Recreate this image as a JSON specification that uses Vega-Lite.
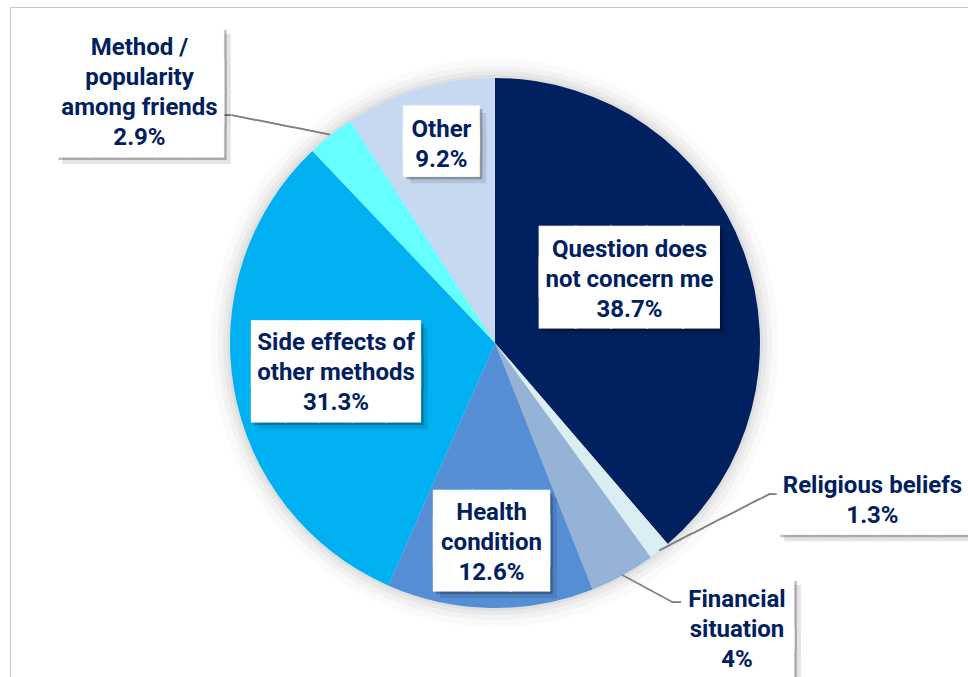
{
  "$schema": "https://vega.github.io/schema/vega-lite/v6.json",
  "width": 958,
  "height": 670,
  "autosize": {"type": "none"},
  "padding": {"left": 10, "top": 7, "right": 0, "bottom": 0},
  "background": "white",
  "view": {"stroke": "#c6c6c6", "strokeWidth": 1},
  "config": {"view": {"stroke": "#c6c6c6", "strokeWidth": 1}},
  "data": {"values": [
    {"category": "Question does not concern me", "value": 38.7, "label": "Question does\nnot concern me\n38.7%"},
    {"category": "Religious beliefs", "value": 1.3, "label": "Religious beliefs\n1.3%"},
    {"category": "Financial situation", "value": 4, "label": "Financial\nsituation\n4%"},
    {"category": "Health condition", "value": 12.6, "label": "Health\ncondition\n12.6%"},
    {"category": "Side effects of other methods", "value": 31.3, "label": "Side effects of\nother methods\n31.3%"},
    {"category": "Method / popularity among friends", "value": 2.9, "label": "Method /\npopularity\namong friends\n2.9%"},
    {"category": "Other", "value": 9.2, "label": "Other\n9.2%"}
  ]},
  "transform": [{"window": [{"op": "row_number", "as": "idx"}]}],
  "layer": [
    {"transform": [{"aggregate": [{"op": "sum", "field": "value", "as": "total"}]}],
     "mark": {"type": "arc", "theta": 0, "theta2": 6.2832, "radius": 284, "color": "#000", "opacity": 0.02, "xOffset": 6, "yOffset": 1},
     "encoding": {}},
    {"transform": [{"aggregate": [{"op": "sum", "field": "value", "as": "total"}]}],
     "mark": {"type": "arc", "theta": 0, "theta2": 6.2832, "radius": 277, "color": "#000", "opacity": 0.03, "xOffset": 6, "yOffset": 1},
     "encoding": {}},
    {"transform": [{"aggregate": [{"op": "sum", "field": "value", "as": "total"}]}],
     "mark": {"type": "arc", "theta": 0, "theta2": 6.2832, "radius": 272, "color": "#000", "opacity": 0.035, "xOffset": 6, "yOffset": 1},
     "encoding": {}},
    {"transform": [{"aggregate": [{"op": "sum", "field": "value", "as": "total"}]}],
     "mark": {"type": "arc", "theta": 0, "theta2": 6.2832, "radius": 268, "color": "#000", "opacity": 0.04, "xOffset": 6, "yOffset": 1},
     "encoding": {}},
    {"mark": {"type": "arc", "radius": 265, "xOffset": 6, "yOffset": 1},
     "encoding": {
       "theta": {"field": "value", "type": "quantitative", "stack": true},
       "order": {"field": "idx", "type": "quantitative"},
       "color": {"field": "category", "type": "nominal", "legend": null,
         "scale": {"domain": ["Question does not concern me", "Religious beliefs", "Financial situation", "Health condition", "Side effects of other methods", "Method / popularity among friends", "Other"],
                   "range": ["#002060", "#DAEEF3", "#95B3D7", "#558ED5", "#00B0F0", "#66FFFF", "#C6D9F1"]}}
     }},

    {"mark": {"type": "text", "font": "DejaVu Sans Mono", "fontSize": 20.8, "angle": 11.1, "color": "#7f7f7f", "align": "center", "baseline": "middle", "dy": 1, "radius": 305.6, "thetaOffset": -0.1075, "xOffset": 6, "yOffset": 1},
     "encoding": {"theta": {"field": "value", "type": "quantitative", "stack": true}, "order": {"field": "idx", "type": "quantitative"}, "detail": {"field": "category", "type": "nominal"},
       "text": {"condition": {"test": "datum.category === 'Method / popularity among friends'", "value": "────────"}, "value": ""}}},
    {"mark": {"type": "text", "font": "DejaVu Sans Mono", "fontSize": 20, "angle": 0, "color": "#7f7f7f", "align": "center", "baseline": "middle", "dy": 1, "radius": 353.2, "thetaOffset": -0.2016, "xOffset": 6, "yOffset": 1},
     "encoding": {"theta": {"field": "value", "type": "quantitative", "stack": true}, "order": {"field": "idx", "type": "quantitative"}, "detail": {"field": "category", "type": "nominal"},
       "text": {"condition": {"test": "datum.category === 'Method / popularity among friends'", "value": "─"}, "value": ""}}},
    {"mark": {"type": "text", "font": "DejaVu Sans Mono", "fontSize": 20.7, "angle": 332.9, "color": "#7f7f7f", "align": "center", "baseline": "middle", "dy": 1, "radius": 283.4, "thetaOffset": -0.2176, "xOffset": 6, "yOffset": 1},
     "encoding": {"theta": {"field": "value", "type": "quantitative", "stack": true}, "order": {"field": "idx", "type": "quantitative"}, "detail": {"field": "category", "type": "nominal"},
       "text": {"condition": {"test": "datum.category === 'Religious beliefs'", "value": "──────────"}, "value": ""}}},
    {"mark": {"type": "text", "font": "DejaVu Sans Mono", "fontSize": 20, "angle": 0, "color": "#7f7f7f", "align": "center", "baseline": "middle", "dy": 1, "radius": 318, "thetaOffset": -0.4079, "xOffset": 6, "yOffset": 1},
     "encoding": {"theta": {"field": "value", "type": "quantitative", "stack": true}, "order": {"field": "idx", "type": "quantitative"}, "detail": {"field": "category", "type": "nominal"},
       "text": {"condition": {"test": "datum.category === 'Religious beliefs'", "value": "─"}, "value": ""}}},
    {"mark": {"type": "text", "font": "DejaVu Sans Mono", "fontSize": 19.2, "angle": 28.2, "color": "#7f7f7f", "align": "center", "baseline": "middle", "dy": 1, "radius": 289.0, "thetaOffset": -0.0543, "xOffset": 6, "yOffset": 1},
     "encoding": {"theta": {"field": "value", "type": "quantitative", "stack": true}, "order": {"field": "idx", "type": "quantitative"}, "detail": {"field": "category", "type": "nominal"},
       "text": {"condition": {"test": "datum.category === 'Financial situation'", "value": "─────"}, "value": ""}}},
    {"mark": {"type": "text", "font": "DejaVu Sans Mono", "fontSize": 20, "angle": 0, "color": "#7f7f7f", "align": "center", "baseline": "middle", "dy": 1, "radius": 317.1, "thetaOffset": -0.1126, "xOffset": 6, "yOffset": 1},
     "encoding": {"theta": {"field": "value", "type": "quantitative", "stack": true}, "order": {"field": "idx", "type": "quantitative"}, "detail": {"field": "category", "type": "nominal"},
       "text": {"condition": {"test": "datum.category === 'Financial situation'", "value": "─"}, "value": ""}}},

    {"mark": {"type": "text", "font": "DejaVu Sans Mono", "fontSize": 59.5, "lineHeight": 30.8, "lineBreak": "\n", "color": "#000", "opacity": 0.1, "align": "center", "baseline": "middle", "dy": -12.7, "radius": 149.95, "thetaOffset": -0.1030, "xOffset": 13, "yOffset": 8},
     "encoding": {"theta": {"field": "value", "type": "quantitative", "stack": true}, "order": {"field": "idx", "type": "quantitative"}, "detail": {"field": "category", "type": "nominal"},
       "text": {"condition": {"test": "datum.category === 'Question does not concern me'", "value": "█████\n█████"}, "value": ""}}},
    {"mark": {"type": "text", "font": "DejaVu Sans Mono", "fontSize": 55.8, "lineHeight": 35, "lineBreak": "\n", "color": "#000", "opacity": 0.1, "align": "center", "baseline": "middle", "dy": -14.9, "radius": 161.4, "thetaOffset": 0.0, "xOffset": 13, "yOffset": 8},
     "encoding": {"theta": {"field": "value", "type": "quantitative", "stack": true}, "order": {"field": "idx", "type": "quantitative"}, "detail": {"field": "category", "type": "nominal"},
       "text": {"condition": {"test": "datum.category === 'Side effects of other methods'", "value": "█████\n█████"}, "value": ""}}},
    {"mark": {"type": "text", "font": "DejaVu Sans Mono", "fontSize": 63.7, "lineHeight": 24.9, "lineBreak": "\n", "color": "#000", "opacity": 0.1, "align": "center", "baseline": "middle", "dy": -9.55, "radius": 197.2, "thetaOffset": -0.001, "xOffset": 13, "yOffset": 8},
     "encoding": {"theta": {"field": "value", "type": "quantitative", "stack": true}, "order": {"field": "idx", "type": "quantitative"}, "detail": {"field": "category", "type": "nominal"},
       "text": {"condition": {"test": "datum.category === 'Health condition'", "value": "███\n███"}, "value": ""}}},
    {"mark": {"type": "text", "font": "DejaVu Sans Mono", "fontSize": 41.5, "lineHeight": 21.7, "lineBreak": "\n", "color": "#000", "opacity": 0.1, "align": "center", "baseline": "middle", "dy": -8.95, "radius": 208.3, "thetaOffset": 0.0293, "xOffset": 13, "yOffset": 8},
     "encoding": {"theta": {"field": "value", "type": "quantitative", "stack": true}, "order": {"field": "idx", "type": "quantitative"}, "detail": {"field": "category", "type": "nominal"},
       "text": {"condition": {"test": "datum.category === 'Other'", "value": "███\n███"}, "value": ""}}},
    {"mark": {"type": "text", "font": "DejaVu Sans Mono", "fontSize": 55.5, "lineHeight": 32.2, "lineBreak": "\n", "color": "#000", "opacity": 0.1, "align": "center", "baseline": "middle", "dy": -29.6, "radius": 435.6, "thetaOffset": -0.2854, "xOffset": 13, "yOffset": 8},
     "encoding": {"theta": {"field": "value", "type": "quantitative", "stack": true}, "order": {"field": "idx", "type": "quantitative"}, "detail": {"field": "category", "type": "nominal"},
       "text": {"condition": {"test": "datum.category === 'Method / popularity among friends'", "value": "█████\n█████\n█████"}, "value": ""}}},
    {"mark": {"type": "text", "font": "DejaVu Sans Mono", "fontSize": 52.6, "lineHeight": 6.8, "lineBreak": "\n", "color": "#000", "opacity": 0.1, "align": "center", "baseline": "middle", "dy": -1.0, "radius": 408.8, "thetaOffset": -0.5109, "xOffset": 13, "yOffset": 8},
     "encoding": {"theta": {"field": "value", "type": "quantitative", "stack": true}, "order": {"field": "idx", "type": "quantitative"}, "detail": {"field": "category", "type": "nominal"},
       "text": {"condition": {"test": "datum.category === 'Religious beliefs'", "value": "██████\n██████"}, "value": ""}}},
    {"mark": {"type": "text", "font": "DejaVu Sans Mono", "fontSize": 61.5, "lineHeight": 48.4, "lineBreak": "\n", "color": "#000", "opacity": 0.1, "align": "center", "baseline": "middle", "dy": -21.4, "radius": 383.2, "thetaOffset": -0.1826, "xOffset": 13, "yOffset": 8},
     "encoding": {"theta": {"field": "value", "type": "quantitative", "stack": true}, "order": {"field": "idx", "type": "quantitative"}, "detail": {"field": "category", "type": "nominal"},
       "text": {"condition": {"test": "datum.category === 'Financial situation'", "value": "███\n███"}, "value": ""}}},

    {"mark": {"type": "text", "font": "DejaVu Sans Mono", "fontSize": 59.5, "lineHeight": 30.8, "lineBreak": "\n", "color": "#000", "opacity": 0.25, "align": "center", "baseline": "middle", "dy": -12.7, "radius": 149.95, "thetaOffset": -0.1030, "xOffset": 9, "yOffset": 4},
     "encoding": {"theta": {"field": "value", "type": "quantitative", "stack": true}, "order": {"field": "idx", "type": "quantitative"}, "detail": {"field": "category", "type": "nominal"},
       "text": {"condition": {"test": "datum.category === 'Question does not concern me'", "value": "█████\n█████"}, "value": ""}}},
    {"mark": {"type": "text", "font": "DejaVu Sans Mono", "fontSize": 55.8, "lineHeight": 35, "lineBreak": "\n", "color": "#000", "opacity": 0.25, "align": "center", "baseline": "middle", "dy": -14.9, "radius": 161.4, "thetaOffset": 0.0, "xOffset": 9, "yOffset": 4},
     "encoding": {"theta": {"field": "value", "type": "quantitative", "stack": true}, "order": {"field": "idx", "type": "quantitative"}, "detail": {"field": "category", "type": "nominal"},
       "text": {"condition": {"test": "datum.category === 'Side effects of other methods'", "value": "█████\n█████"}, "value": ""}}},
    {"mark": {"type": "text", "font": "DejaVu Sans Mono", "fontSize": 63.7, "lineHeight": 24.9, "lineBreak": "\n", "color": "#000", "opacity": 0.25, "align": "center", "baseline": "middle", "dy": -9.55, "radius": 197.2, "thetaOffset": -0.001, "xOffset": 9, "yOffset": 4},
     "encoding": {"theta": {"field": "value", "type": "quantitative", "stack": true}, "order": {"field": "idx", "type": "quantitative"}, "detail": {"field": "category", "type": "nominal"},
       "text": {"condition": {"test": "datum.category === 'Health condition'", "value": "███\n███"}, "value": ""}}},
    {"mark": {"type": "text", "font": "DejaVu Sans Mono", "fontSize": 41.5, "lineHeight": 21.7, "lineBreak": "\n", "color": "#000", "opacity": 0.25, "align": "center", "baseline": "middle", "dy": -8.95, "radius": 208.3, "thetaOffset": 0.0293, "xOffset": 9, "yOffset": 4},
     "encoding": {"theta": {"field": "value", "type": "quantitative", "stack": true}, "order": {"field": "idx", "type": "quantitative"}, "detail": {"field": "category", "type": "nominal"},
       "text": {"condition": {"test": "datum.category === 'Other'", "value": "███\n███"}, "value": ""}}},
    {"mark": {"type": "text", "font": "DejaVu Sans Mono", "fontSize": 55.5, "lineHeight": 32.2, "lineBreak": "\n", "color": "#000", "opacity": 0.25, "align": "center", "baseline": "middle", "dy": -29.6, "radius": 435.6, "thetaOffset": -0.2854, "xOffset": 9, "yOffset": 4},
     "encoding": {"theta": {"field": "value", "type": "quantitative", "stack": true}, "order": {"field": "idx", "type": "quantitative"}, "detail": {"field": "category", "type": "nominal"},
       "text": {"condition": {"test": "datum.category === 'Method / popularity among friends'", "value": "█████\n█████\n█████"}, "value": ""}}},
    {"mark": {"type": "text", "font": "DejaVu Sans Mono", "fontSize": 52.6, "lineHeight": 6.8, "lineBreak": "\n", "color": "#000", "opacity": 0.25, "align": "center", "baseline": "middle", "dy": -1.0, "radius": 408.8, "thetaOffset": -0.5109, "xOffset": 9, "yOffset": 4},
     "encoding": {"theta": {"field": "value", "type": "quantitative", "stack": true}, "order": {"field": "idx", "type": "quantitative"}, "detail": {"field": "category", "type": "nominal"},
       "text": {"condition": {"test": "datum.category === 'Religious beliefs'", "value": "██████\n██████"}, "value": ""}}},
    {"mark": {"type": "text", "font": "DejaVu Sans Mono", "fontSize": 61.5, "lineHeight": 48.4, "lineBreak": "\n", "color": "#000", "opacity": 0.25, "align": "center", "baseline": "middle", "dy": -21.4, "radius": 383.2, "thetaOffset": -0.1826, "xOffset": 9, "yOffset": 4},
     "encoding": {"theta": {"field": "value", "type": "quantitative", "stack": true}, "order": {"field": "idx", "type": "quantitative"}, "detail": {"field": "category", "type": "nominal"},
       "text": {"condition": {"test": "datum.category === 'Financial situation'", "value": "███\n███"}, "value": ""}}},

    {"mark": {"type": "text", "font": "DejaVu Sans Mono", "fontSize": 59.5, "lineHeight": 30.8, "lineBreak": "\n", "color": "#fff", "stroke": "#fff", "strokeWidth": 1, "align": "center", "baseline": "middle", "dy": -12.7, "radius": 149.95, "thetaOffset": -0.1030, "xOffset": 6, "yOffset": 1},
     "encoding": {"theta": {"field": "value", "type": "quantitative", "stack": true}, "order": {"field": "idx", "type": "quantitative"}, "detail": {"field": "category", "type": "nominal"},
       "text": {"condition": {"test": "datum.category === 'Question does not concern me'", "value": "█████\n█████"}, "value": ""}}},
    {"mark": {"type": "text", "font": "DejaVu Sans Mono", "fontSize": 55.8, "lineHeight": 35, "lineBreak": "\n", "color": "#fff", "stroke": "#fff", "strokeWidth": 1, "align": "center", "baseline": "middle", "dy": -14.9, "radius": 161.4, "thetaOffset": 0.0, "xOffset": 6, "yOffset": 1},
     "encoding": {"theta": {"field": "value", "type": "quantitative", "stack": true}, "order": {"field": "idx", "type": "quantitative"}, "detail": {"field": "category", "type": "nominal"},
       "text": {"condition": {"test": "datum.category === 'Side effects of other methods'", "value": "█████\n█████"}, "value": ""}}},
    {"mark": {"type": "text", "font": "DejaVu Sans Mono", "fontSize": 63.7, "lineHeight": 24.9, "lineBreak": "\n", "color": "#fff", "stroke": "#fff", "strokeWidth": 1, "align": "center", "baseline": "middle", "dy": -9.55, "radius": 197.2, "thetaOffset": -0.001, "xOffset": 6, "yOffset": 1},
     "encoding": {"theta": {"field": "value", "type": "quantitative", "stack": true}, "order": {"field": "idx", "type": "quantitative"}, "detail": {"field": "category", "type": "nominal"},
       "text": {"condition": {"test": "datum.category === 'Health condition'", "value": "███\n███"}, "value": ""}}},
    {"mark": {"type": "text", "font": "DejaVu Sans Mono", "fontSize": 41.5, "lineHeight": 21.7, "lineBreak": "\n", "color": "#fff", "stroke": "#fff", "strokeWidth": 1, "align": "center", "baseline": "middle", "dy": -8.95, "radius": 208.3, "thetaOffset": 0.0293, "xOffset": 6, "yOffset": 1},
     "encoding": {"theta": {"field": "value", "type": "quantitative", "stack": true}, "order": {"field": "idx", "type": "quantitative"}, "detail": {"field": "category", "type": "nominal"},
       "text": {"condition": {"test": "datum.category === 'Other'", "value": "███\n███"}, "value": ""}}},
    {"mark": {"type": "text", "font": "DejaVu Sans Mono", "fontSize": 55.5, "lineHeight": 32.2, "lineBreak": "\n", "color": "#fff", "stroke": "#fff", "strokeWidth": 1, "align": "center", "baseline": "middle", "dy": -29.6, "radius": 435.6, "thetaOffset": -0.2854, "xOffset": 6, "yOffset": 1},
     "encoding": {"theta": {"field": "value", "type": "quantitative", "stack": true}, "order": {"field": "idx", "type": "quantitative"}, "detail": {"field": "category", "type": "nominal"},
       "text": {"condition": {"test": "datum.category === 'Method / popularity among friends'", "value": "█████\n█████\n█████"}, "value": ""}}},
    {"mark": {"type": "text", "font": "DejaVu Sans Mono", "fontSize": 52.6, "lineHeight": 6.8, "lineBreak": "\n", "color": "#fff", "stroke": "#fff", "strokeWidth": 1, "align": "center", "baseline": "middle", "dy": -1.0, "radius": 408.8, "thetaOffset": -0.5109, "xOffset": 6, "yOffset": 1},
     "encoding": {"theta": {"field": "value", "type": "quantitative", "stack": true}, "order": {"field": "idx", "type": "quantitative"}, "detail": {"field": "category", "type": "nominal"},
       "text": {"condition": {"test": "datum.category === 'Religious beliefs'", "value": "██████\n██████"}, "value": ""}}},
    {"mark": {"type": "text", "font": "DejaVu Sans Mono", "fontSize": 61.5, "lineHeight": 48.4, "lineBreak": "\n", "color": "#fff", "stroke": "#fff", "strokeWidth": 1, "align": "center", "baseline": "middle", "dy": -21.4, "radius": 383.2, "thetaOffset": -0.1826, "xOffset": 6, "yOffset": 1},
     "encoding": {"theta": {"field": "value", "type": "quantitative", "stack": true}, "order": {"field": "idx", "type": "quantitative"}, "detail": {"field": "category", "type": "nominal"},
       "text": {"condition": {"test": "datum.category === 'Financial situation'", "value": "███\n███"}, "value": ""}}},

    {"mark": {"type": "text", "font": "Roboto", "fontWeight": "bold", "fontSize": 24, "lineHeight": 30, "lineBreak": "\n", "color": "#002060", "align": "center", "baseline": "middle", "dy": -29, "radius": 149.1, "thetaOffset": -0.0909, "xOffset": 6, "yOffset": 1},
     "encoding": {"theta": {"field": "value", "type": "quantitative", "stack": true}, "order": {"field": "idx", "type": "quantitative"}, "detail": {"field": "category", "type": "nominal"},
       "text": {"condition": {"test": "datum.category === 'Question does not concern me'", "field": "label", "type": "nominal"}, "value": ""}}},
    {"mark": {"type": "text", "font": "Roboto", "fontWeight": "bold", "fontSize": 24, "lineHeight": 30, "lineBreak": "\n", "color": "#002060", "align": "center", "baseline": "middle", "dy": -29, "radius": 161.6, "thetaOffset": -0.007, "xOffset": 6, "yOffset": 1},
     "encoding": {"theta": {"field": "value", "type": "quantitative", "stack": true}, "order": {"field": "idx", "type": "quantitative"}, "detail": {"field": "category", "type": "nominal"},
       "text": {"condition": {"test": "datum.category === 'Side effects of other methods'", "field": "label", "type": "nominal"}, "value": ""}}},
    {"mark": {"type": "text", "font": "Roboto", "fontWeight": "bold", "fontSize": 24, "lineHeight": 30, "lineBreak": "\n", "color": "#002060", "align": "center", "baseline": "middle", "dy": -29, "radius": 198.9, "thetaOffset": -0.0014, "xOffset": 6, "yOffset": 1},
     "encoding": {"theta": {"field": "value", "type": "quantitative", "stack": true}, "order": {"field": "idx", "type": "quantitative"}, "detail": {"field": "category", "type": "nominal"},
       "text": {"condition": {"test": "datum.category === 'Health condition'", "field": "label", "type": "nominal"}, "value": ""}}},
    {"mark": {"type": "text", "font": "Roboto", "fontWeight": "bold", "fontSize": 24, "lineHeight": 30, "lineBreak": "\n", "color": "#002060", "align": "center", "baseline": "middle", "dy": -14, "radius": 206.4, "thetaOffset": 0.0267, "xOffset": 6, "yOffset": 1},
     "encoding": {"theta": {"field": "value", "type": "quantitative", "stack": true}, "order": {"field": "idx", "type": "quantitative"}, "detail": {"field": "category", "type": "nominal"},
       "text": {"condition": {"test": "datum.category === 'Other'", "field": "label", "type": "nominal"}, "value": ""}}},
    {"mark": {"type": "text", "font": "Roboto", "fontWeight": "bold", "fontSize": 24, "lineHeight": 30, "lineBreak": "\n", "color": "#002060", "align": "center", "baseline": "middle", "dy": -44, "radius": 435.2, "thetaOffset": -0.2868, "xOffset": 6, "yOffset": 1},
     "encoding": {"theta": {"field": "value", "type": "quantitative", "stack": true}, "order": {"field": "idx", "type": "quantitative"}, "detail": {"field": "category", "type": "nominal"},
       "text": {"condition": {"test": "datum.category === 'Method / popularity among friends'", "field": "label", "type": "nominal"}, "value": ""}}},
    {"mark": {"type": "text", "font": "Roboto", "fontWeight": "bold", "fontSize": 24, "lineHeight": 30, "lineBreak": "\n", "color": "#002060", "align": "center", "baseline": "middle", "dy": -14, "radius": 408.8, "thetaOffset": -0.5077, "xOffset": 6, "yOffset": 1},
     "encoding": {"theta": {"field": "value", "type": "quantitative", "stack": true}, "order": {"field": "idx", "type": "quantitative"}, "detail": {"field": "category", "type": "nominal"},
       "text": {"condition": {"test": "datum.category === 'Religious beliefs'", "field": "label", "type": "nominal"}, "value": ""}}},
    {"mark": {"type": "text", "font": "Roboto", "fontWeight": "bold", "fontSize": 24, "lineHeight": 30, "lineBreak": "\n", "color": "#002060", "align": "center", "baseline": "middle", "dy": -29, "radius": 374.3, "thetaOffset": -0.2004, "xOffset": 6, "yOffset": 1},
     "encoding": {"theta": {"field": "value", "type": "quantitative", "stack": true}, "order": {"field": "idx", "type": "quantitative"}, "detail": {"field": "category", "type": "nominal"},
       "text": {"condition": {"test": "datum.category === 'Financial situation'", "field": "label", "type": "nominal"}, "value": ""}}}
  ]
}
